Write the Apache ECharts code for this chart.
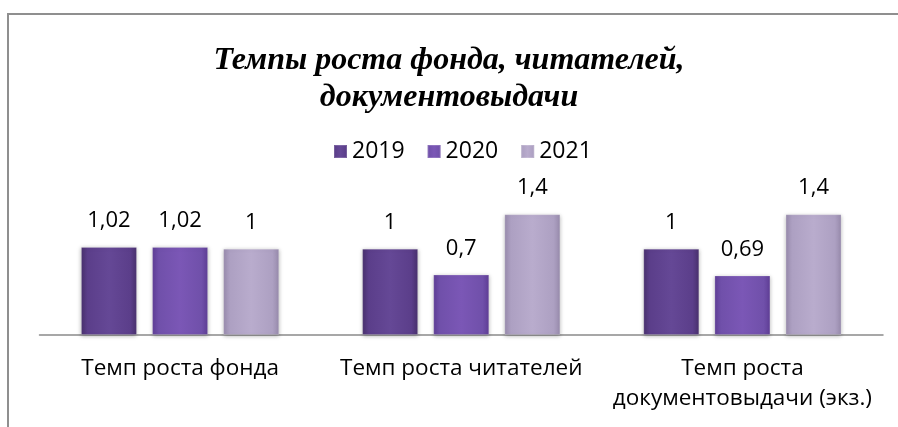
<!DOCTYPE html>
<html>
<head>
<meta charset="utf-8">
<script src="https://cdn.jsdelivr.net/npm/echarts@6/dist/echarts.min.js"></script>
<style>
html,body{margin:0;padding:0;background:#fff;}
#chart{width:898px;height:427px;}
</style>
</head>
<body>
<div id="chart"></div>
<script>
var categories = ['Темп роста фонда', 'Темп роста читателей', 'Темп роста\nдокументовыдачи (экз.)'];
var seriesNames = ['2019', '2020', '2021'];
var values2019 = [1.02, 1, 1];
var values2020 = [1.02, 0.7, 0.69];
var values2021 = [1, 1.4, 1.4];
var titleText = 'Темпы роста фонда, читателей,\nдокументовыдачи';

var G = echarts.graphic;
function grad(edge, mid, center) {
  return new G.LinearGradient(0, 0, 1, 0, [
    {offset: 0, color: edge},
    {offset: 0.12, color: mid},
    {offset: 0.5, color: center},
    {offset: 0.88, color: mid},
    {offset: 1, color: edge}
  ]);
}
var colors = [
  grad('#48306c', '#5b3e8a', '#654896'),
  grad('#5e3d95', '#7050aa', '#7b57b6'),
  grad('#978aab', '#ada0c2', '#b9accd')
];
var font = '"Open Sans", "Noto Sans", sans-serif';

function mk(i, data) {
  return {
    name: seriesNames[i],
    type: 'bar',
    data: data,
    barGap: '27%',
    barCategoryGap: '29.5%',
    itemStyle: {
      color: colors[i],
      borderColor: 'rgba(255,255,255,0.18)',
      borderWidth: 1,
      shadowBlur: 4,
      shadowColor: 'rgba(0,0,0,0.3)',
      shadowOffsetY: 1
    },
    label: {
      show: true,
      position: 'top',
      distance: 15,
      color: '#000',
      fontFamily: font,
      fontSize: 22,
      formatter: function (p) { return String(p.value).replace('.', ','); }
    }
  };
}

var chart = echarts.init(document.getElementById('chart'), null, {renderer: 'canvas'});
chart.setOption({
  animation: false,
  backgroundColor: '#fff',
  title: {
    text: titleText,
    left: 'center',
    top: 37,
    textStyle: {
      fontFamily: '"Liberation Serif", "Times New Roman", serif',
      fontStyle: 'italic',
      fontWeight: 'bold',
      fontSize: 32,
      lineHeight: 37,
      color: '#000'
    }
  },
  legend: {
    data: seriesNames,
    left: 333,
    top: 140,
    padding: 0,
    itemWidth: 13,
    itemHeight: 13,
    itemGap: 22,
    icon: 'rect',
    textStyle: {fontFamily: font, fontSize: 23, color: '#000'}
  },
  grid: {left: 39.5, right: 15, top: 162.4, bottom: 92, containLabel: false},
  xAxis: {
    type: 'category',
    data: categories,
    axisLine: {show: true, lineStyle: {color: '#8a8a8a', width: 1.5}},
    axisTick: {show: false},
    axisLabel: {
      interval: 0,
      margin: 19,
      color: '#000',
      fontFamily: font,
      fontSize: 22.5,
      lineHeight: 30
    }
  },
  yAxis: {
    type: 'value',
    min: 0,
    max: 2,
    show: false,
    splitLine: {show: false}
  },
  graphic: [{
    type: 'rect',
    shape: {x: 8, y: 14, width: 1200, height: 1200},
    style: {fill: 'none', stroke: '#8f8f8f', lineWidth: 2},
    z: 100
  }],
  series: [mk(0, values2019), mk(1, values2020), mk(2, values2021)]
});
</script>
</body>
</html>
